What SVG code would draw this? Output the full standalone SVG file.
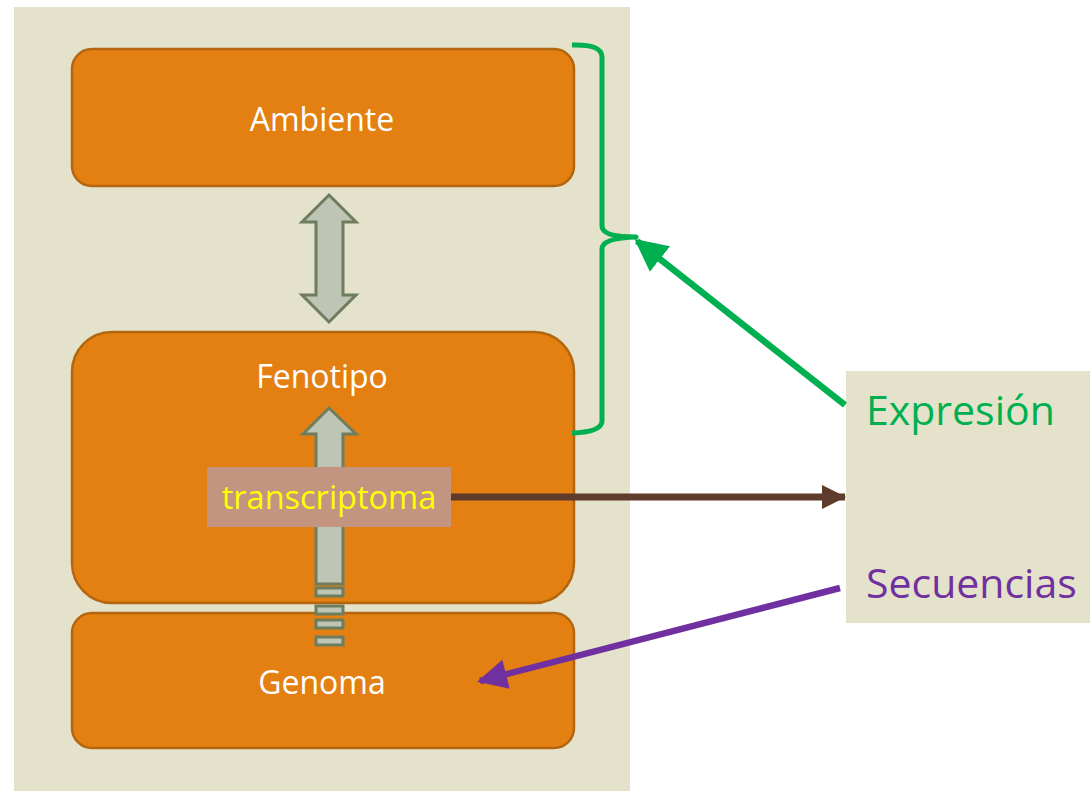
<svg xmlns="http://www.w3.org/2000/svg" width="1090" height="791" viewBox="0 0 1090 791">
  <style>
    .panel { fill: #E4E2CB; }
    .box { fill: #E48012; stroke: #B3660F; stroke-width: 2.5; }
    .lbl { font-family: "Open Sans", "Liberation Sans", sans-serif; font-size: 32px; fill: #FFFFFF; text-anchor: middle; }
    .big { font-family: "Open Sans", "Liberation Sans", sans-serif; font-size: 41px; }
    .garrow { fill: #BEC5B5; stroke: #6F7D5F; stroke-width: 3; stroke-linejoin: miter; }
  </style>
  <defs>
    <marker id="mGreen" viewBox="0 0 10 10" refX="9" refY="5" markerWidth="5" markerHeight="5" markerUnits="strokeWidth" orient="auto">
      <path d="M0,0 L10,5 L0,10 z" fill="#00B050"/>
    </marker>
    <marker id="mBrown" viewBox="0 0 10 10" refX="9.5" refY="5" markerWidth="3.5" markerHeight="3.6" markerUnits="strokeWidth" orient="auto">
      <path d="M0,0 L10,5 L0,10 z" fill="#5E3B2B"/>
    </marker>
    <marker id="mPurple" viewBox="0 0 10 10" refX="9" refY="5" markerWidth="5" markerHeight="4.6" markerUnits="strokeWidth" orient="auto">
      <path d="M0,0 L10,5 L0,10 z" fill="#7030A0"/>
    </marker>
  </defs>

  <g id="background">
    <rect class="panel" x="14" y="7" width="616" height="784"/>
  </g>

  <g id="ambiente">
    <rect class="box" x="72" y="49" width="502" height="137" rx="20" ry="20"/>
    <text class="lbl" x="322" y="131">Ambiente</text>
  </g>

  <g id="fenotipo">
    <rect class="box" x="72" y="332" width="502" height="271" rx="40" ry="40"/>
    <text class="lbl" x="322" y="388">Fenotipo</text>
  </g>

  <g id="genoma">
    <rect class="box" x="72" y="613" width="502" height="135" rx="20" ry="20"/>
    <text class="lbl" x="322" y="694">Genoma</text>
  </g>

  <g id="double-arrow">
    <polygon class="garrow" points="329,195 356,222 343,222 343,295 356,295 329,322 302,295 316,295 316,222 302,222"/>
  </g>

  <g id="up-arrow">
    <polygon class="garrow" points="329,408 356,434 343,434 343,584 316,584 316,434 303,434"/>
    <rect class="garrow" x="316" y="588" width="27" height="8"/>
    <rect class="garrow" x="316" y="606" width="27" height="8"/>
    <rect class="garrow" x="316" y="620" width="27" height="8"/>
    <rect class="garrow" x="316" y="637" width="27" height="8"/>
  </g>

  <g id="transcriptoma">
    <rect x="207" y="467" width="244" height="60" fill="#C39580"/>
    <text x="329" y="509" font-family="Open Sans, Liberation Sans, sans-serif" font-size="32.5" fill="#FFFF00" text-anchor="middle">transcriptoma</text>
  </g>

  <g id="right-panel">
    <rect class="panel" x="846" y="371" width="244" height="252"/>
    <text class="big" x="866" y="425" fill="#00B050">Expresión</text>
    <text class="big" x="866" y="598" fill="#7030A0">Secuencias</text>
  </g>

  <g id="connectors" fill="none">
    <path d="M572,45 Q602,44 602,57 L602,226 Q602,237 636,237 Q602,238 602,249 L602,421 Q602,432 572,433" stroke="#00B050" stroke-width="5" stroke-linejoin="round"/>
    <line x1="845" y1="405" x2="637" y2="241" stroke="#00B050" stroke-width="6.5" marker-end="url(#mGreen)"/>
    <line x1="451" y1="497" x2="845" y2="497" stroke="#5E3B2B" stroke-width="7" marker-end="url(#mBrown)"/>
    <line x1="840" y1="588" x2="480" y2="681" stroke="#7030A0" stroke-width="6.5" marker-end="url(#mPurple)"/>
  </g>
</svg>
